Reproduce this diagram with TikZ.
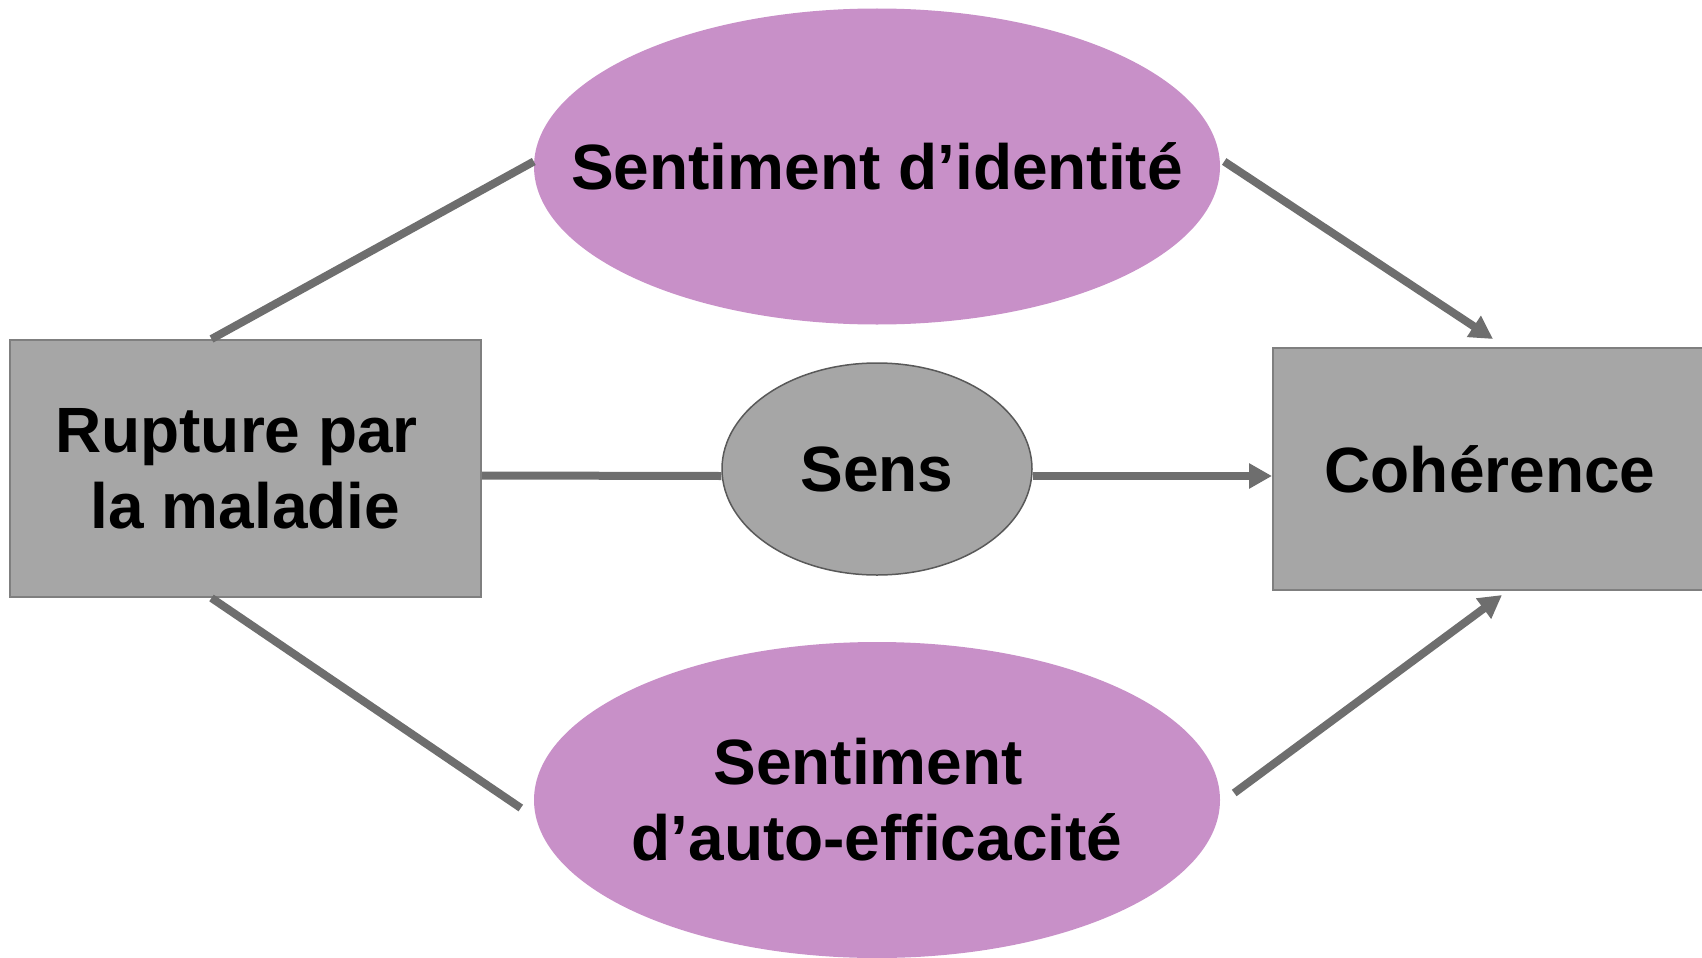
\documentclass[tikz,border=0pt]{standalone}
\usepackage{fontspec}
\setmainfont{Liberation Sans}
\usepackage{xcolor}
\usetikzlibrary{arrows.meta,shapes.geometric}
\definecolor{boxfill}{HTML}{A6A6A6}
\definecolor{boxline}{HTML}{7F7F7F}
\definecolor{mauve}{HTML}{C890C8}
\definecolor{wire}{HTML}{6E6E6E}
\definecolor{rim}{HTML}{595959}
\tikzset{
  lab/.style={font=\fontsize{64}{76}\selectfont\bfseries, text=black, align=center},
  block/.style={rectangle, fill=boxfill, draw=boxline, line width=2pt, inner sep=0pt},
  bubble/.style={ellipse, fill=mauve, inner sep=0pt, minimum width=686pt, minimum height=316pt},
  sensbubble/.style={ellipse, fill=boxfill, draw=rim, line width=1.5pt, inner sep=0pt,
    minimum width=310pt, minimum height=212pt},
  conn/.style={line width=8pt, draw=wire},
  connA/.style={conn, -{Triangle[length=23pt,width=24pt]}}
}
\newcommand{\trail}{\hspace*{.278em}}
\begin{document}
\begin{tikzpicture}[x=1pt,y=-1pt]
  \useasboundingbox (0,0) rectangle (1702,958);

  \node[block, lab, minimum width=471pt, minimum height=257pt] (rupt) at (245.5,468.5)
    {Rupture par\trail\\la maladie};
  \node[block, lab, minimum width=434pt, minimum height=242pt] (coher) at (1490,469)
    {Cohérence};

  \node[bubble, label={[lab]center:Sentiment d’identité}] (ident) at (877,166.5) {};
  \node[sensbubble, label={[lab]center:Sens}] (sens) at (877,469) {};
  \node[bubble, label={[lab]center:Sentiment\trail\\d’auto-efficacité}] (effic) at (877,800) {};

  % links to the three mediators
  \draw[conn] ([xshift=-34pt]rupt.north) -- ([yshift=5pt]ident.west);
  \draw[conn] ([yshift=-7pt]rupt.east) -- ([yshift=-7pt]sens.west);
  \draw[conn] ([xshift=-34pt]rupt.south) -- ([xshift=-13pt,yshift=-8pt]effic.west);

  % links to coherence
  \draw[connA] ([xshift=4pt,yshift=5pt]ident.east) -- ([xshift=3pt,yshift=8pt]coher.north);
  \draw[connA] ([yshift=-7pt]sens.east) -- ([yshift=-7pt]coher.west);
  \draw[connA] ([xshift=14pt,yshift=7pt]effic.east) -- ([xshift=12pt,yshift=-4pt]coher.south);
\end{tikzpicture}
\end{document}
